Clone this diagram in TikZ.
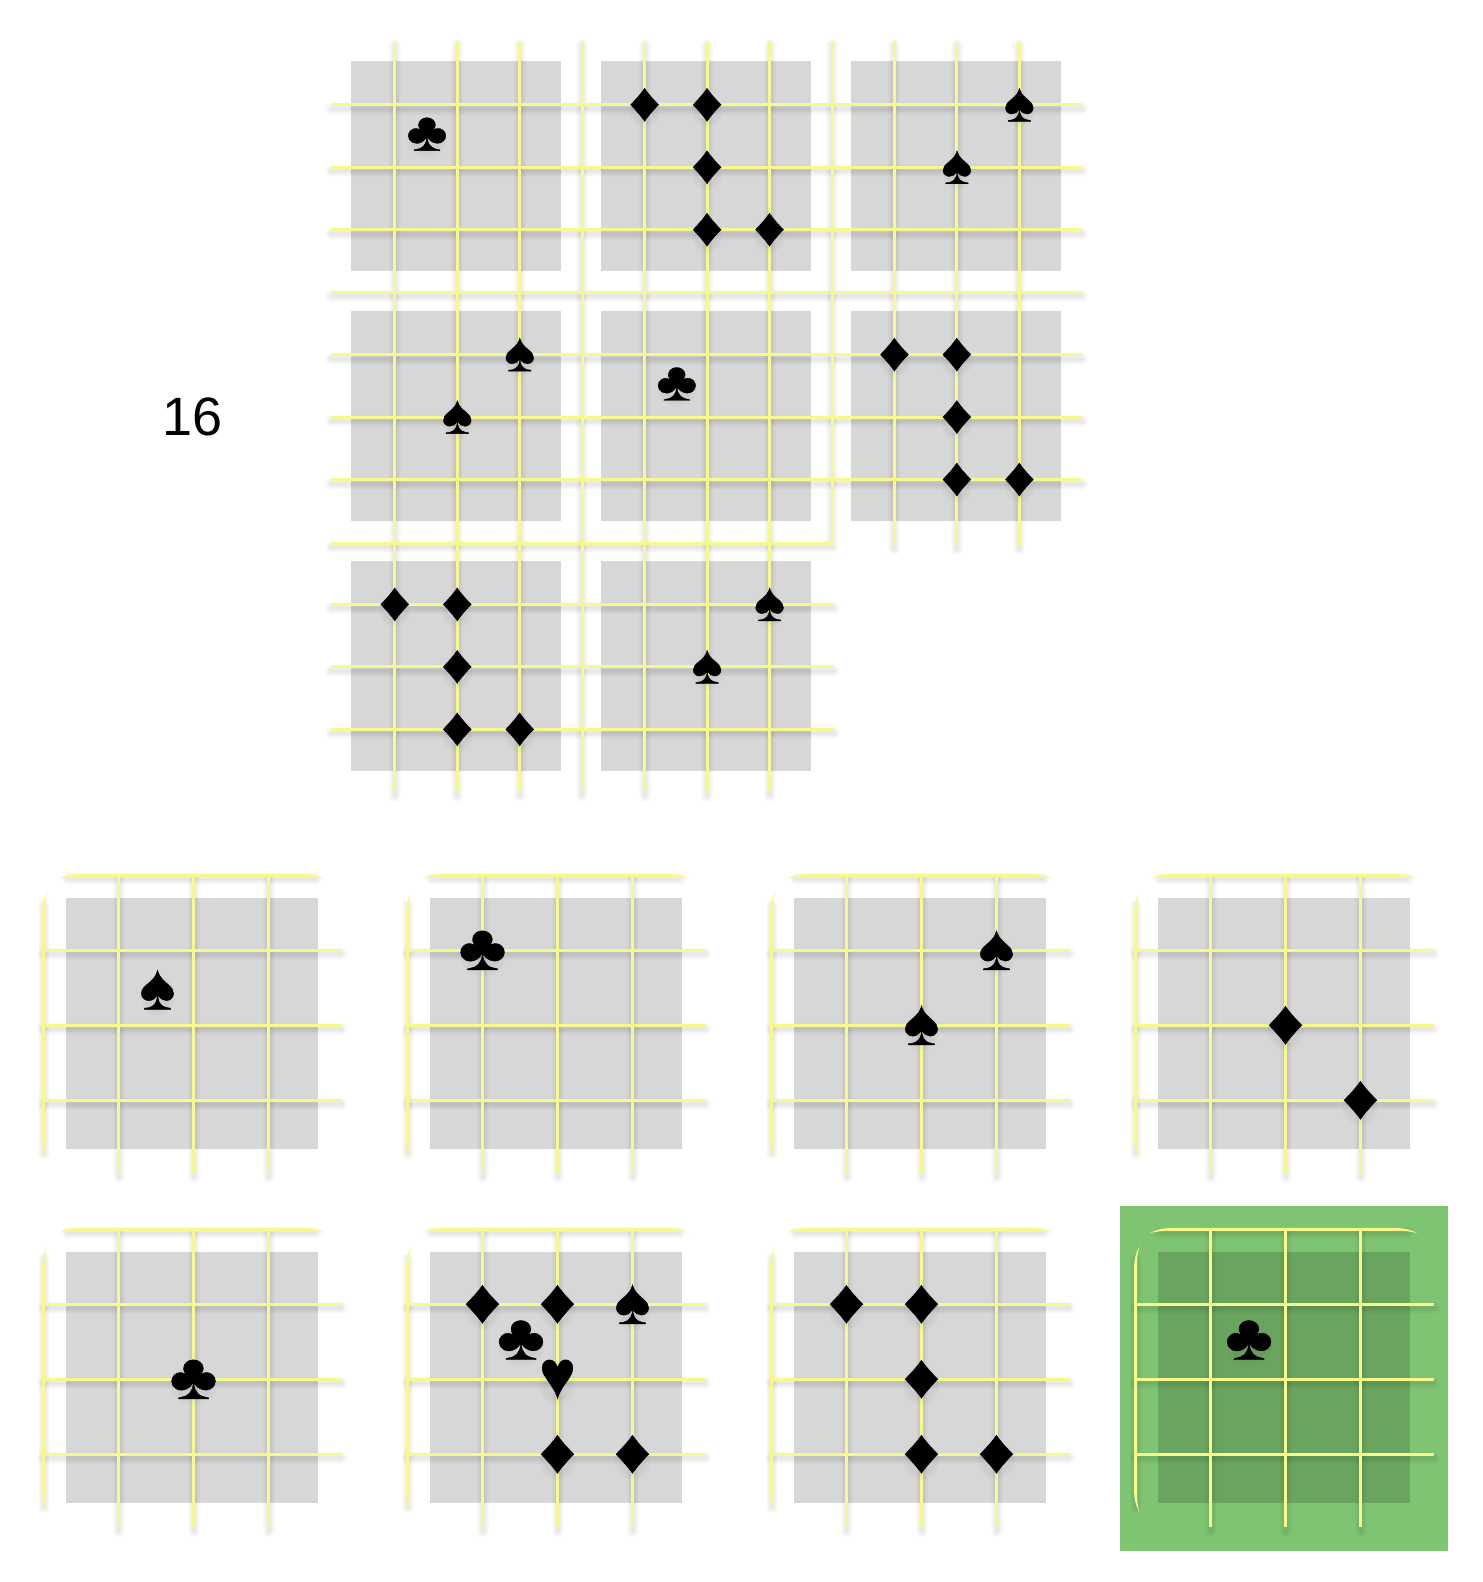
\documentclass[tikz,border=0pt]{standalone}
\usepackage{fontspec}
\setmainfont{Liberation Sans}
\newfontfamily\suitfont[FakeBold=0.7]{Liberation Sans}
\definecolor{gridyellow}{HTML}{F7F98A}
\definecolor{cellgreen}{HTML}{7EC472}
\newcounter{suitc}
\tikzset{
  x=0.5pt,y=-0.5pt,
  gridline/.style={draw=gridyellow,line width=1.5pt},
  graycell/.style={fill=black,fill opacity=0.155},
  suitnode/.style={inner sep=0,font=\suitfont\fontsize{27}{27}\selectfont},
  softdot/.style={fill=black,fill opacity=0.022},
}
% size in pt: width, height, character
\newcommand\suit[5]{%
  \stepcounter{suitc}%
  \fill[softdot] ({#1},{#2+6}) ellipse ({#3*0.95} and {#4*1.0});
  \fill[softdot] ({#1},{#2+6}) ellipse ({#3*0.75} and {#4*0.8});
  \node[suitnode] (s\arabic{suitc}) at ({#1},{#2}) {\resizebox*{#3pt}{#4pt}{#5}};
}
\newcommand\TG[3]{%
  \ifx#3c\suit{332.4+62.45*(#1)}{42.4+62.45*(#2)}{20.5}{16.5}{♣}\fi
  \ifx#3s\suit{332.4+62.45*(#1)}{42.4+62.45*(#2)}{15.5}{16.5}{♠}\fi
  \ifx#3d\suit{332.4+62.45*(#1)}{42.4+62.45*(#2)}{16}{16.5}{♦}\fi
}
\newcommand\BG[5]{%
  \ifx#5c\suit{#1+75*(#3)}{#2+75*(#4)}{24}{19.5}{♣}\fi
  \ifx#5s\suit{#1+75*(#3)}{#2+75*(#4)}{18}{19.5}{♠}\fi
  \ifx#5d\suit{#1+75*(#3)}{#2+75*(#4)}{18.8}{19}{♦}\fi
  \ifx#5h\suit{#1+75*(#3)}{#2+75*(#4)}{18.5}{19.5}{♥}\fi
}
\newcommand\TClub[2]{\TG{#1+1.515}{#2+1.47}{c}}
\newcommand\TSpades[2]{\TG{#1+3}{#2+1}{s}\TG{#1+2}{#2+2}{s}}
\newcommand\TDiam[2]{\TG{#1+1}{#2+1}{d}\TG{#1+2}{#2+1}{d}\TG{#1+2}{#2+2}{d}\TG{#1+2}{#2+3}{d}\TG{#1+3}{#2+3}{d}}
\newcommand\TopLines[1]{%
  \foreach \k in {1,...,7}{
    \draw[#1] ({332.4+62.45*\k},41) -- ({332.4+62.45*\k},792);
    \draw[#1] (331,{42.4+62.45*\k}) -- (1082,{42.4+62.45*\k});
  }
  \draw[#1] (832,41) -- (832,543) -- (331,543);
  \foreach \k in {9,10,11}{
    \draw[#1] ({332.4+62.45*\k},41) -- ({332.4+62.45*\k},545);
    \draw[#1] (331,{42.4+62.45*\k}) -- (834,{42.4+62.45*\k});
  }
}
\newcommand\BotLines[3]{%
  \foreach \k in {75,150,225}{
    \draw[#1] ({#2+\k},#3) -- ({#2+\k},{#3+298});
    \draw[#1] (#2,{#3+\k}) -- ({#2+298},{#3+\k});
  }
}
\newcommand\FrameFill[3]{%
  \fill[#1] ({#2+14},{#3+4}) .. controls ({#2+20},{#3+0.5}) and ({#2+28},{#3-1.5}) .. ({#2+38},{#3-1.5})
    -- ({#2+258},{#3-1.5}) .. controls ({#2+268},{#3-1.5}) and ({#2+276},{#3+0.5}) .. ({#2+282},{#3+4})
    .. controls ({#2+274},{#3+1.5}) and ({#2+268},{#3+1.5}) .. ({#2+258},{#3+1.5})
    -- ({#2+38},{#3+1.5}) .. controls ({#2+28},{#3+1.5}) and ({#2+22},{#3+1.5}) .. cycle;
  \fill[#1] ({#2+4},{#3+17}) .. controls ({#2+0.5},{#3+23}) and ({#2-1.5},{#3+30}) .. ({#2-1.5},{#3+40})
    -- ({#2-1.5},{#3+260}) .. controls ({#2-1.5},{#3+270}) and ({#2+0.5},{#3+277}) .. ({#2+4},{#3+283})
    .. controls ({#2+1.5},{#3+275}) and ({#2+1.5},{#3+268}) .. ({#2+1.5},{#3+260})
    -- ({#2+1.5},{#3+40}) .. controls ({#2+1.5},{#3+30}) and ({#2+1.5},{#3+25}) .. cycle;
}
\newcommand\FrameShadow[3]{%
  \draw[#1] ({#2+24},#3) -- ({#2+272},#3);
  \draw[#1] (#2,{#3+26}) -- (#2,{#3+274});
}
\begin{document}
\begin{tikzpicture}
\useasboundingbox (0,0) rectangle (1482,1582);
\fill[white] (0,0) rectangle (1482,1582);
\fill[cellgreen] (1120,1206) rectangle (1448,1551);
% gray squares, top
\foreach \cx/\cy in {351/61,601/61,851/61,351/311,601/311,851/311,351/561,601/561}{
  \fill[graycell] (\cx,\cy) rectangle ({\cx+209.7},{\cy+209.7});
}
% gray squares, bottom
\foreach \cx in {43.5,407.5,771.5,1135.5}{
  \foreach \cy in {875.3,1229.3}{
    \fill[graycell] ({\cx+22.5},{\cy+22.5}) rectangle ({\cx+274.5},{\cy+274});
  }
}
% soft shadows
\begin{scope}[shift={(0,4)}]
  \foreach \w in {1,2,3,4,5,6}{
    \tikzset{sh/.style={draw=black,draw opacity=0.016,line width=\w pt,line cap=round}}
    \TopLines{sh}
    \foreach \cx in {43.5,407.5,771.5,1135.5}{
      \foreach \cy in {875.3,1229.3}{
        \BotLines{sh}{\cx}{\cy}
        \FrameShadow{sh}{\cx}{\cy}
      }
    }
  }
\end{scope}
% yellow lines
\TopLines{gridline}
\foreach \cx in {43.5,407.5,771.5,1135.5}{
  \foreach \cy in {875.3,1229.3}{
    \BotLines{gridline}{\cx}{\cy}
    \FrameFill{gridyellow}{\cx}{\cy}
  }
}
% top suits
\TClub{0}{0}\TDiam{4}{0}\TSpades{8}{0}
\TSpades{0}{4}\TClub{4}{4}\TDiam{8}{4}
\TDiam{0}{8}\TSpades{4}{8}
% answers, row 1
\BG{45}{877.3}{1.5}{1.5}{s}
\BG{407.5}{875.3}{1}{1}{c}
\BG{771.5}{875.3}{3}{1}{s}\BG{771.5}{875.3}{2}{2}{s}
\BG{1135.5}{875.3}{2}{2}{d}\BG{1135.5}{875.3}{3}{3}{d}
% answers, row 2
\BG{43.5}{1229.3}{2}{2}{c}
\BG{407.5}{1229.3}{1}{1}{d}\BG{407.5}{1229.3}{2}{1}{d}\BG{407.5}{1229.3}{3}{1}{s}
\BG{408.5}{1227.5}{1.5}{1.5}{c}\BG{407.5}{1229.3}{2}{2}{h}
\BG{407.5}{1229.3}{2}{3}{d}\BG{407.5}{1229.3}{3}{3}{d}
\BG{771.5}{1229.3}{1}{1}{d}\BG{771.5}{1229.3}{2}{1}{d}\BG{771.5}{1229.3}{2}{2}{d}
\BG{771.5}{1229.3}{2}{3}{d}\BG{771.5}{1229.3}{3}{3}{d}
\BG{1136.5}{1227.5}{1.5}{1.5}{c}
\node[inner sep=0,font=\fontsize{27}{27}\selectfont] (num) at (193,417) {16};
\end{tikzpicture}
\end{document}
